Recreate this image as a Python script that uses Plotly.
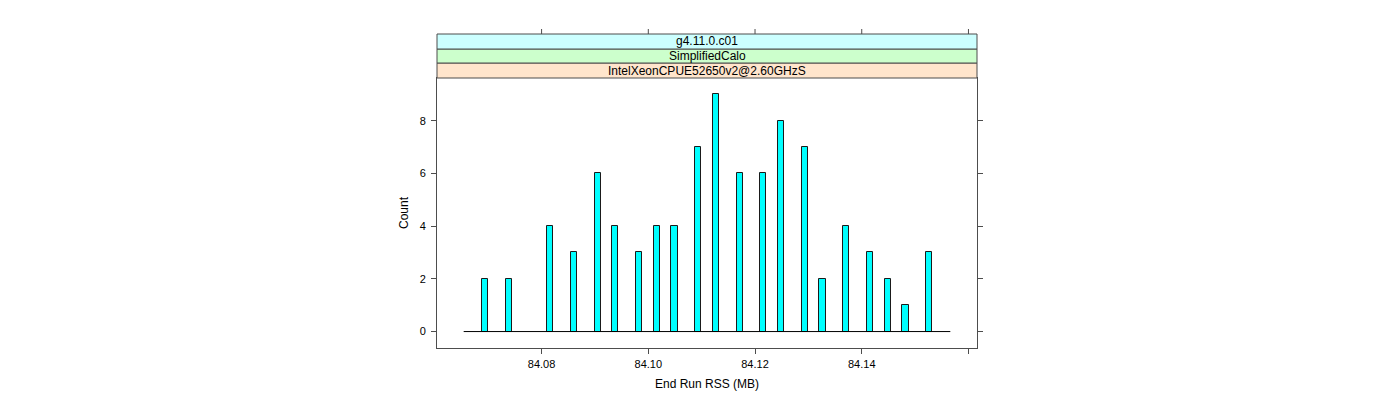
import plotly.graph_objects as go

# Data
rss_values = [84.06944, 84.07392, 84.08163, 84.08611, 84.09054, 84.09382, 84.09830,
              84.10164, 84.10492, 84.10935, 84.11270, 84.11711, 84.12153, 84.12489,
              84.12930, 84.13265, 84.13708, 84.14156, 84.14484, 84.14820, 84.15268]
counts = [2, 2, 4, 3, 6, 4, 3, 4, 4, 7, 9, 6, 6, 8, 7, 2, 4, 3, 2, 1, 3]
baseline_x = [84.0654, 84.1566]
x_ticks = [84.08, 84.10, 84.12, 84.14, 84.16]
x_tick_labels = ["84.08", "84.10", "84.12", "84.14", ""]
y_ticks = [0, 2, 4, 6, 8]
strip_labels = ["IntelXeonCPUE52650v2@2.60GHzS", "SimplifiedCalo", "g4.11.0.c01"]
strip_colors = ["#FFE5CC", "#CCFFCC", "#CCFFFF"]

FONT = "Liberation Sans, Arial, Helvetica, sans-serif"
AXIS_COL = "#4d4d4d"

fig = go.Figure()
fig.add_trace(go.Scatter(
    x=baseline_x, y=[0, 0], mode="lines",
    line=dict(color="black", width=1), hoverinfo="skip", showlegend=False))
fig.add_trace(go.Bar(
    x=rss_values, y=counts, width=0.00115,
    marker=dict(color="#00FFFF", line=dict(color="#1a1a1a", width=1)),
    showlegend=False))

# strips above the panel
H = 270.0
strip_px = [0, 15, 29, 44]
for i, (lab, col) in enumerate(zip(strip_labels, strip_colors)):
    y0 = 1 + strip_px[i] / H
    y1 = 1 + strip_px[i + 1] / H
    fig.add_shape(type="rect", xref="paper", yref="paper", x0=0, x1=1, y0=y0, y1=y1,
                  fillcolor=col, line=dict(color=AXIS_COL, width=1), layer="above")
    fig.add_annotation(text=lab, xref="paper", yref="paper", x=0.5, y=(y0 + y1) / 2,
                       showarrow=False, font=dict(family=FONT, size=12, color="black"),
                       xanchor="center", yanchor="middle")

# top tick marks above strips
for t in x_ticks:
    fig.add_shape(type="line", xref="x", yref="paper", x0=t, x1=t,
                  y0=1 + 44 / H, y1=1 + 49 / H, line=dict(color=AXIS_COL, width=1))

fig.update_layout(
    width=1400, height=400,
    margin=dict(l=429, r=431, t=70, b=60),
    paper_bgcolor="white", plot_bgcolor="white",
    font=dict(family=FONT, size=11, color="black"),
    bargap=0,
    xaxis=dict(range=[84.0604, 84.1616], tickvals=x_ticks, ticktext=x_tick_labels,
               ticks="outside", ticklen=5, tickcolor=AXIS_COL, showgrid=False,
               zeroline=False, showline=True, linecolor=AXIS_COL, linewidth=1, mirror=True,
               tickfont=dict(family=FONT, size=11), ticklabelstandoff=1,
               title=dict(text="End Run RSS (MB)", font=dict(family=FONT, size=12), standoff=10)),
    yaxis=dict(range=[-0.624, 9.62], tickvals=y_ticks, ticks="outside", ticklen=5,
               tickcolor=AXIS_COL, showgrid=False, zeroline=False, showline=True,
               linecolor=AXIS_COL, linewidth=1, mirror="allticks",
               tickfont=dict(family=FONT, size=11), ticklabelstandoff=3,
               title=dict(text="Count", font=dict(family=FONT, size=12), standoff=8)),
)

fig.write_html("out.html")
